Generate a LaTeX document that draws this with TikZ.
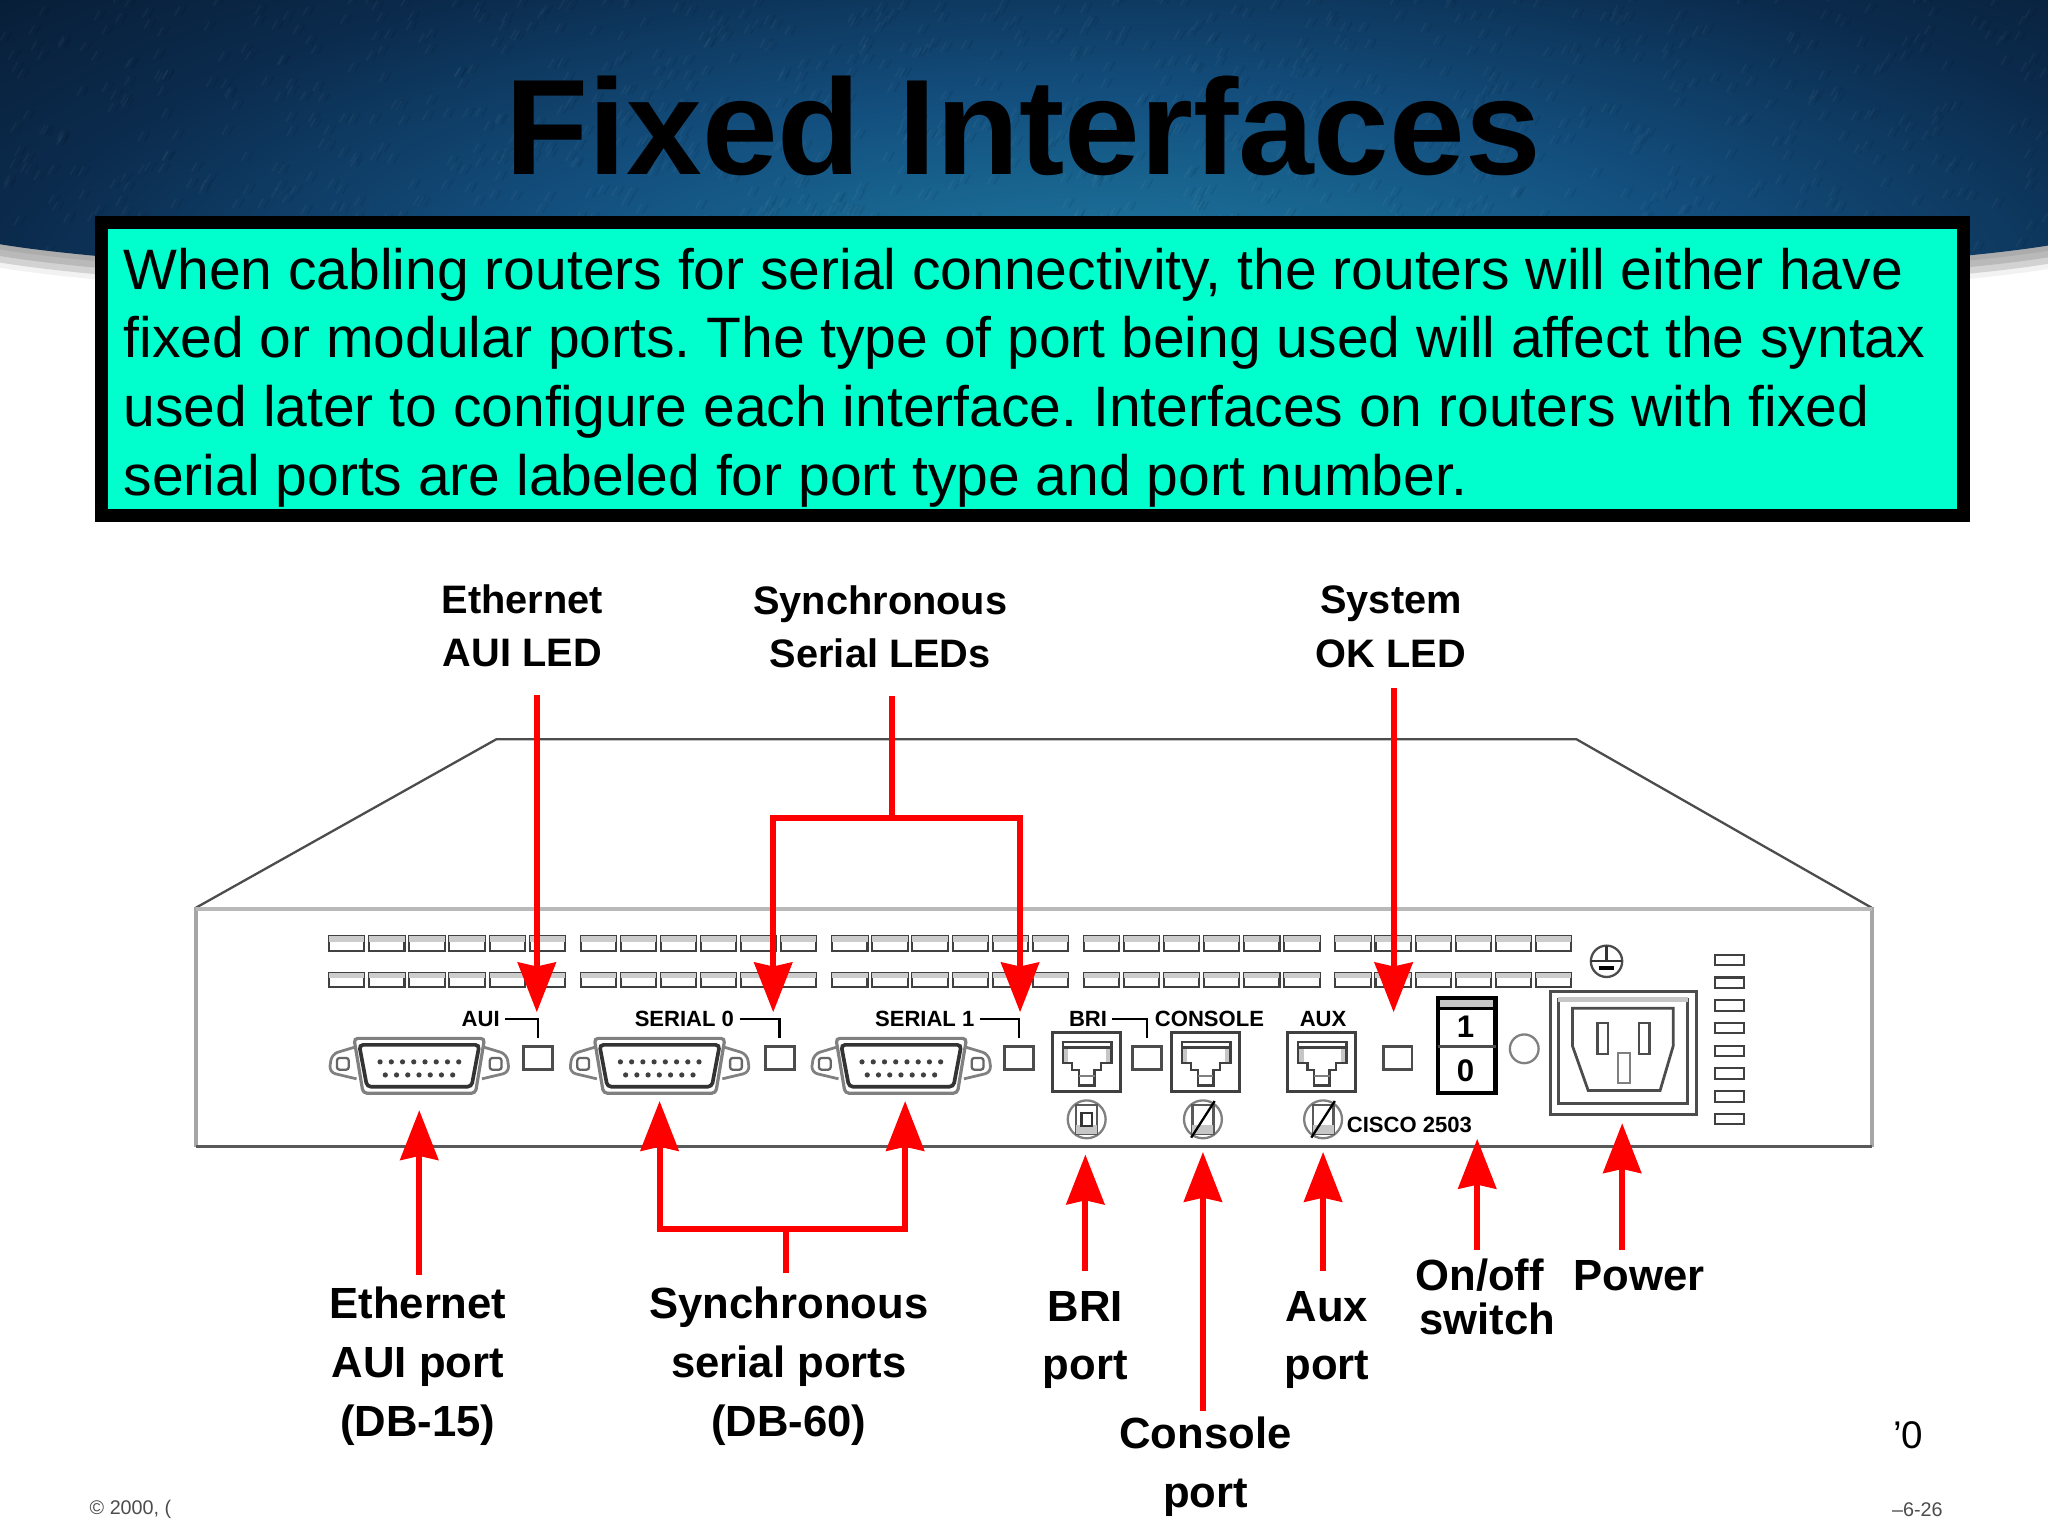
\documentclass[tikz,border=0pt]{standalone}
\usepackage{fontspec}
\setmainfont{Liberation Sans}
\usetikzlibrary{arrows.meta}
\usetikzlibrary{calc}
\frenchspacing

\definecolor{bandmid}{HTML}{1F7FA6}
\definecolor{bandone}{HTML}{134F7E}
\definecolor{bandtwo}{HTML}{0B2B4D}
\definecolor{bandend}{HTML}{081D36}
\definecolor{boxfill}{HTML}{00FFCC}
\pgfdeclareradialshading{bandshade}{\pgfpointorigin}{color(0bp)=(bandmid); color(14bp)=(bandone); color(25bp)=(bandtwo); color(33bp)=(bandend); color(100bp)=(bandend)}

\newcommand{\bandpath}{(0,0) -- (1568,0) -- (1568,188) .. controls (1320,228) and (250,228) .. (0,187) -- cycle}

\tikzset{
    toplabel/.style={font=\fontsize{8.65}{11.6}\selectfont\bfseries, align=center, inner sep=0pt},
    botlabel/.style={font=\fontsize{9.5}{12.8}\selectfont\bfseries, align=center, inner sep=0pt},
    panellabel/.style={font=\fontsize{4.8}{5.5}\selectfont\bfseries, inner sep=1pt},
    led/.style={draw=black!70, line width=.6pt, fill=white, minimum width=.22cm, minimum height=.18cm, inner sep=0pt},
    rjbox/.style={draw=black!75, line width=.7pt, fill=white, minimum width=.52cm, minimum height=.45cm, inner sep=0pt},
    redline/.style={red, line width=.045cm},
    redarrow/.style={redline, -{Stealth[width=.29cm, length=.38cm, inset=.03cm]}},
    leader/.style={black, line width=.55pt, shorten >=.5mm},
    vent/.style={draw=black!75, line width=.45pt, fill=white},
    dbear/.style={gray, line width=.6pt, rounded corners=.05cm},
    dbport/.pic={
        \draw[dbear] (-47,-15) -- (-67,-9) -- (-69,5) -- (-48,10);
        \draw[dbear] (47,-15) -- (67,-9) -- (69,5) -- (48,10);
        \draw[black!60, line width=.5pt, rounded corners=.02cm] (-63,-6) rectangle (-54,3);
        \draw[black!60, line width=.5pt, rounded corners=.02cm] (63,-6) rectangle (54,3);
        \fill[white] (-50,-21) -- (50,-21) -- (43,21) -- (-43,21) -- cycle;
        \draw[gray, line width=.7pt, rounded corners=.03cm] (-50,-21) -- (50,-21) -- (43,21) -- (-43,21) -- cycle;
        \draw[black!80, line width=.8pt, rounded corners=.03cm] (-46,-16) -- (46,-16) -- (40,16) -- (-40,16) -- cycle;
        \foreach \k in {0,...,7} \fill[black!75] ({-30+8.6*\k},-3) circle[radius=2];
        \foreach \k in {0,...,6} \fill[black!75] ({-26+8.6*\k},7) circle[radius=2];
    },
    rjjack/.pic={
        \fill[gray!45] (-18,-11) rectangle (-14,1);
        \fill[gray!45] (19,-11) rectangle (15,1);
        \draw[black!75, line width=.5pt] (-18,-15) -- (19,-15) -- (19,1) -- (11,1) -- (11,6) -- (6,6) -- (6,18) -- (-6,18) -- (-6,6) -- (-11,6) -- (-11,1) -- (-18,1) -- cycle;
        \draw[black!75, line width=.5pt] (-18,-11) -- (19,-11);
        \draw[gray, line width=.4pt] (-6,11) -- (6,11);
    },
    ringicon/.pic={
        \draw[gray, line width=.5pt] (0,0) circle[radius=14.5];
        \draw[black!65, line width=.5pt] (-8,-11) rectangle (8,11);
        \fill[gray!45] (-8,4) -- (8,4) -- (8,11) -- (-8,11) -- cycle;
    }
}

\begin{document}
\begin{tikzpicture}[x=0.01cm, y=-0.01cm]
    \useasboundingbox (0,0) rectangle (1568,1176);

    % slide background
    \foreach \dy/\shadecol in {18/gray!10, 14/gray!35, 9/gray!55, 4/gray!65}
        \fill[\shadecol, shift={(0,\dy)}] \bandpath;
    \begin{scope}
        \clip \bandpath;
        \shade[shading=bandshade] (0,-50) rectangle (1700,510);
        \pgfmathsetseed{7}
        \foreach \k in {1,...,1200} {
            \pgfmathsetmacro{\px}{rnd*1568}
            \pgfmathsetmacro{\py}{rnd*240}
            \draw[white, opacity=.035, line width=.4pt] (\px,\py) -- +(4,-7);
            \draw[black, opacity=.07, line width=.4pt] (\px+5,\py) -- +(4,-7);
        }
    \end{scope}

    \node[font=\fontsize{29.6}{32}\selectfont\bfseries, anchor=base, inner sep=0pt] (title) at (783.5,133.4) {Fixed Interfaces};

    \draw[black, line width=.1cm, fill=boxfill] (78,170) rectangle (1503,395);
    \node[font=\fontsize{12.41}{14.94}\selectfont, align=left, anchor=west, inner sep=0pt] (intro) at (94,289) {When cabling routers for serial connectivity, the routers will either have\\
    fixed or modular ports. The type of port being used will affect the syntax\\
    used later to configure each interface. Interfaces on routers with fixed\\
    serial ports are labeled for port type and port number.};

    % router outline
    \draw[black!70, line width=.5pt] (150,695) -- (380,566) -- (1207,566) -- (1433,695);
    \draw[gray!70, line width=.8pt] (150,878) -- (150,696) -- (1433,696) -- (1433,878);
    \draw[gray!55, line width=.035cm] (150,696) -- (1433,696);
    \draw[black!65, line width=.025cm] (150,878) -- (1433,878);

    % vents
    \foreach \g in {0,...,4} \foreach \s in {0,...,5} \foreach \ry in {717,745} {
        \path[vent] ({252+192.6*\g+30.7*\s},\ry) rectangle +(27,11);
        \fill[gray!40] ({252+192.6*\g+30.7*\s},\ry) rectangle +(27,4);
    }
    \foreach \s in {0,...,7} {
        \path[vent] (1313,{731+17.4*\s}) rectangle +(22.5,8);
    }

    % panel labels and leds
    \node[panellabel] (lblaui) at (368,780) {AUI};
    \node[panellabel] (lblser0) at (524,780) {SERIAL 0};
    \node[panellabel] (lblser1) at (708,780) {SERIAL 1};
    \node[panellabel] (lblbri) at (833,780) {BRI};
    \node[panellabel] (lblcon) at (926,780) {CONSOLE};
    \node[panellabel] (lblaux) at (1013,780) {AUX};
    \node[panellabel, anchor=west] (lblcisco) at (1027,861) {CISCO 2503};

    \node[led] (ledaui) at (412,810) {};
    \node[led] (ledser0) at (597,810) {};
    \node[led] (ledser1) at (780,810) {};
    \node[led] (ledbri) at (878,810) {};
    \node[led] (ledok) at (1070,810) {};

    \draw[leader] (lblaui.east) -| (ledaui.north);
    \draw[leader] (lblser0.east) -| (ledser0.north);
    \draw[leader] (lblser1.east) -| (ledser1.north);
    \draw[leader] (lblbri.east) -| (ledbri.north);

    % ports
    \foreach \cx in {321,505,690}
        \pic at (\cx,816) {dbport};
    \node[rjbox] (portbri) at (832,813) {};
    \node[rjbox] (portcon) at (923,813) {};
    \node[rjbox] (portaux) at (1012,813) {};
    \foreach \cx in {832,923,1012}
        \pic at (\cx,813) {rjjack};
    \foreach \cx in {832,921,1013}
        \pic at (\cx,857) {ringicon};
    \draw[black!80, line width=.5pt] (828,852) rectangle (836,862);
    \draw[black, line width=.5pt] (912,871) -- (930,843);
    \draw[black, line width=.5pt] (1004,871) -- (1022,843);

    % switch, lamp, ground and power inlet
    \fill[gray!45] (1101,764) rectangle (1145,772);
    \draw[black, line width=.9pt] (1101,764) rectangle (1145,837);
    \draw[black, line width=.7pt] (1101,772) -- (1145,772);
    \draw[black!70, line width=.6pt] (1101,801) -- (1145,801);
    \node[font=\fontsize{6.8}{8}\selectfont\bfseries, inner sep=0pt] (swon) at (1122,786) {1};
    \node[font=\fontsize{6.8}{8}\selectfont\bfseries, inner sep=0pt] (swoff) at (1122,820) {0};
    \draw[gray, line width=.5pt] (1167,803) circle[radius=11];

    \draw[black!70, line width=.5pt] (1230,736) circle[radius=12];
    \draw[black!80, line width=.5pt] (1230,724) -- (1230,736) (1218,736) -- (1242,736);
    \draw[black, line width=.9pt] (1224,741) -- (1236,741);

    \draw[black!70, line width=.7pt] (1187,759) rectangle (1299,853);
    \draw[black!70, line width=.6pt] (1193,765) rectangle (1292,845);
    \fill[gray!45] (1193,763) rectangle (1292,767);
    \draw[black!70, line width=.6pt] (1204,772) -- (1281,772) -- (1281,801) -- (1271,835) -- (1216,835) -- (1204,801) -- cycle;
    \draw[black!70, line width=.5pt] (1223,783) rectangle (1231,807);
    \draw[black!70, line width=.5pt] (1255,783) rectangle (1263,807);
    \draw[gray, line width=.5pt] (1239,806) rectangle (1248,829);

    % callout labels
    \node[toplabel] (upaui) at (400,479) {Ethernet\\AUI LED};
    \node[toplabel] (upser) at (674,480) {Synchronous\\Serial LEDs};
    \node[toplabel] (upok) at (1065,480) {System\\OK LED};
    \node[botlabel] (dnaui) at (320,1046) {Ethernet\\AUI port\\(DB-15)};
    \node[botlabel] (dnser) at (604,1046) {Synchronous\\serial ports\\(DB-60)};
    \node[botlabel] (dnbri) at (831,1026) {BRI\\port};
    \node[botlabel] (dncon) at (923,1123) {Console\\port};
    \node[botlabel] (dnaux) at (1016,1026) {Aux\\port};
    \node[botlabel, font=\fontsize{9.5}{9.4}\selectfont\bfseries, align=left, anchor=west] (dnsw) at (1083,993) {On/off\\\hspace*{.03cm}switch};
    \node[botlabel] (dnpow) at (1255,977) {Power};

    \node[font=\fontsize{8.4}{10}\selectfont, inner sep=0pt] (pagemark) at (1461,1099) {’0};
    \node[font=\fontsize{4.3}{5}\selectfont, text=black!70, anchor=west, inner sep=0pt] (copyline) at (68,1156) {© 2000, (};
    \node[font=\fontsize{4.3}{5}\selectfont, text=black!70, anchor=east, inner sep=0pt] (pagenum) at (1488,1156) {–6-26};

    % arrow ends
    \coordinate (a1) at (411,532);   \coordinate (a2) at (411,775);
    \coordinate (b1) at (683,533);   \coordinate (b2) at (683,626);
    \coordinate (b3) at (592,775);   \coordinate (b4) at (781,775);
    \coordinate (c1) at (1067,527);  \coordinate (c2) at (1067,775);
    \coordinate (d1) at (321,976);   \coordinate (d2) at (321,850);
    \coordinate (e1) at (602,975);   \coordinate (e2) at (602,941);
    \coordinate (e3) at (505,843);   \coordinate (e4) at (693,843);
    \coordinate (f1) at (831,973);   \coordinate (f2) at (831,884);
    \coordinate (g1) at (921,1080);  \coordinate (g2) at (921,882);
    \coordinate (h1) at (1013,973);  \coordinate (h2) at (1013,882);
    \coordinate (i1) at (1131,957);  \coordinate (i2) at (1131,872);
    \coordinate (j1) at (1242,957);  \coordinate (j2) at (1242,860);

    \draw[redarrow] (a1) -- (a2);
    \draw[redline] (b1) -- (b2);
    \draw[redarrow] (b2) -| (b3);
    \draw[redarrow] (b2) -| (b4);
    \draw[redarrow] (c1) -- (c2);
    \draw[redarrow] (d1) -- (d2);
    \draw[redline] (e1) -- (e2);
    \draw[redarrow] (e2) -| (e3);
    \draw[redarrow] (e2) -| (e4);
    \draw[redarrow] (f1) -- (f2);
    \draw[redarrow] (g1) -- (g2);
    \draw[redarrow] (h1) -- (h2);
    \draw[redarrow] (i1) -- (i2);
    \draw[redarrow] (j1) -- (j2);
\end{tikzpicture}
\end{document}
